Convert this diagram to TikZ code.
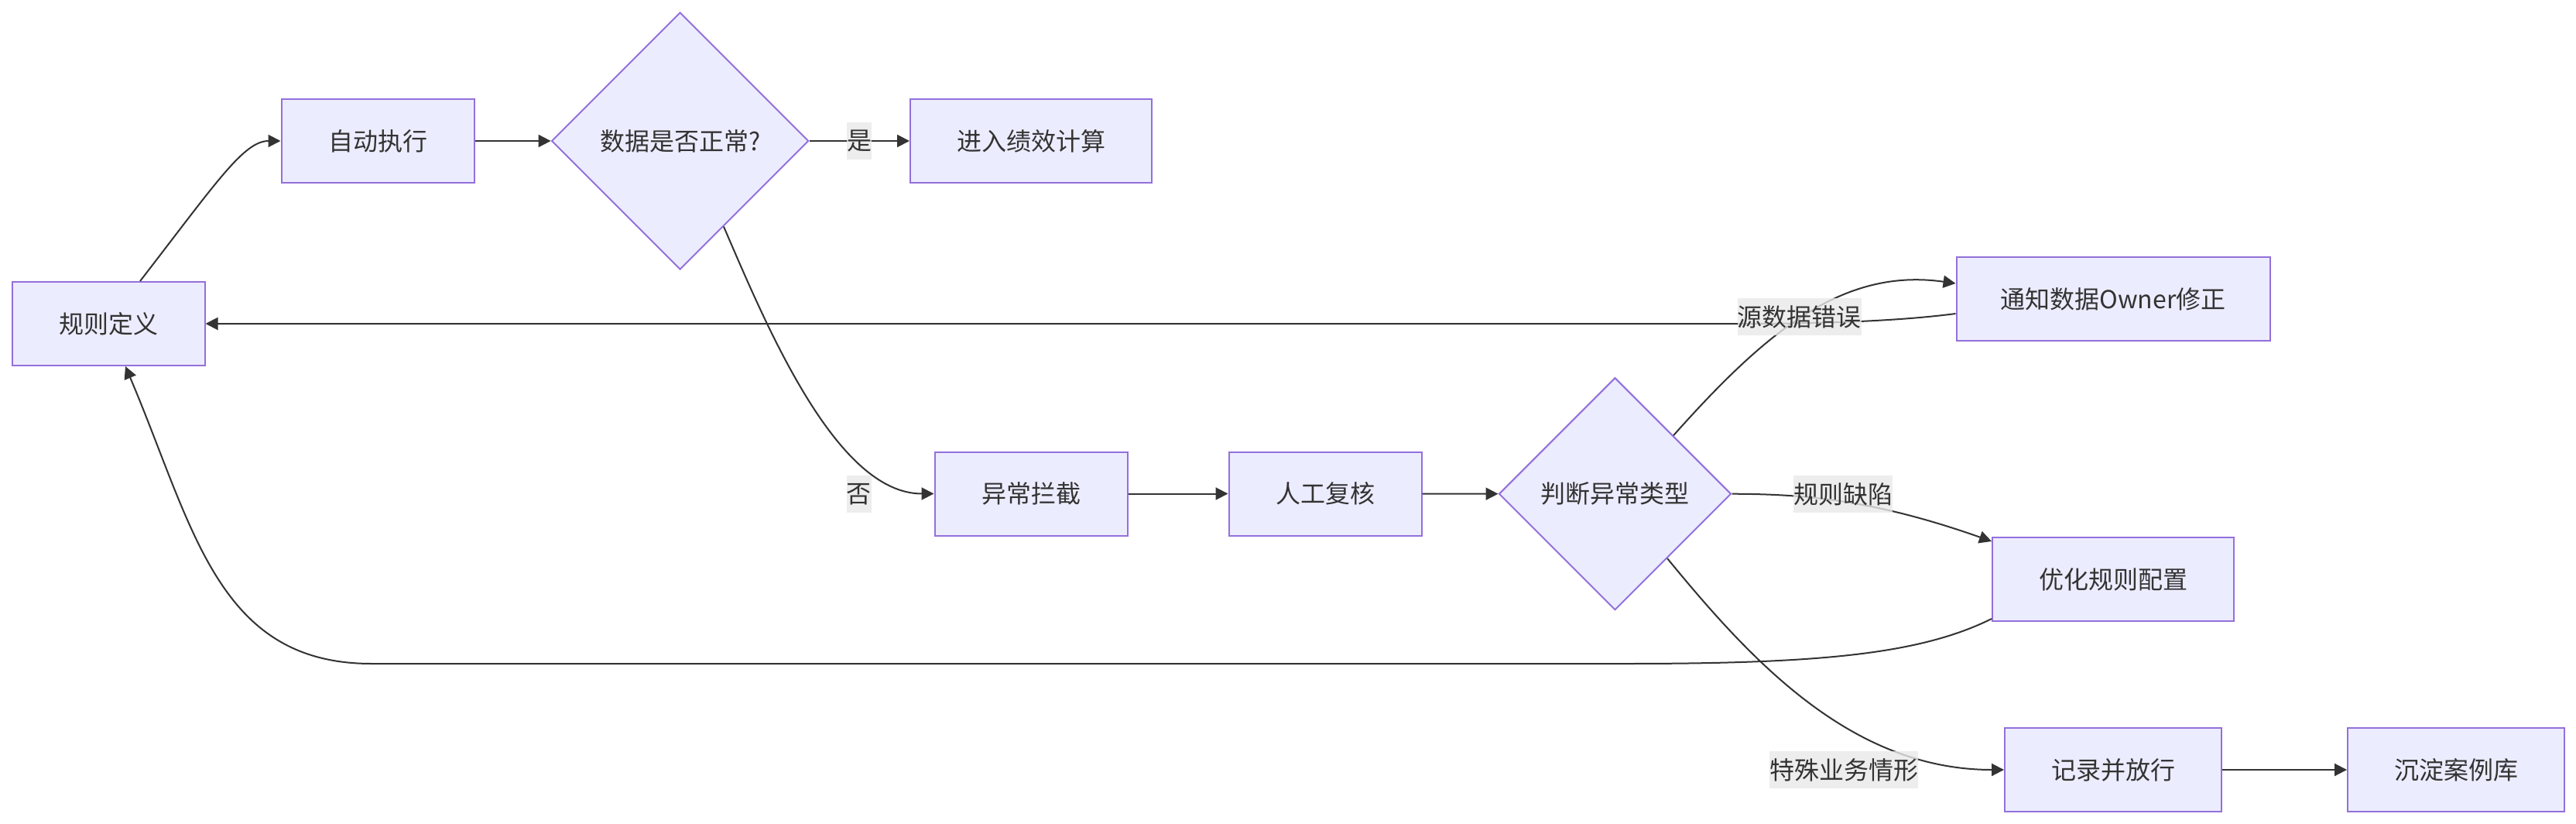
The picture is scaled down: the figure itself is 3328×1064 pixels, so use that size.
\documentclass[tikz,border=0pt]{standalone}
\usepackage{fontspec}
\setmainfont{Noto Sans CJK SC}
\usetikzlibrary{shapes.geometric,arrows.meta}
\definecolor{nodefill}{HTML}{ECECFF}
\definecolor{nodestroke}{HTML}{9370DB}
\definecolor{edgecol}{HTML}{333333}
\definecolor{lblbg}{HTML}{E8E8E8}
\begin{document}
\begin{tikzpicture}[x=0.5pt,y=-0.5pt,
  box/.style={draw=nodestroke, fill=nodefill, line width=1pt, inner sep=0pt, text=edgecol, font=\fontsize{16pt}{20pt}\selectfont},
  proc/.style={box, rectangle, minimum height=54pt},
  decision/.style={box, diamond, aspect=1},
  flow/.style={draw=edgecol, line width=1pt, -{Triangle[length=8pt,width=8pt]}},
  elabel/.style={fill=lblbg, fill opacity=0.8, text opacity=1, text=edgecol, inner sep=0pt, minimum height=24pt, font=\fontsize{16pt}{20pt}\selectfont}]
\useasboundingbox (0,0) rectangle (3328,1064);

\node[proc, minimum width=124.5pt] (A) at (140,418) {规则定义};
\node[proc, minimum width=124.5pt] (B) at (488,182) {自动执行};
\node[decision, minimum width=166pt, minimum height=166pt] (C) at (878.6,182) {数据是否正常?};
\node[proc, minimum width=156pt] (D) at (1332,182) {进入绩效计算};
\node[proc, minimum width=124.5pt] (E) at (1332,637.5) {异常拦截};
\node[proc, minimum width=124.5pt] (F) at (1712,637.5) {人工复核};
\node[decision, minimum width=150pt, minimum height=150pt] (G) at (2086.5,637.7) {判断异常类型};
\node[proc, minimum width=202.5pt] (H) at (2730,386) {通知数据Owner修正};
\node[proc, minimum width=156pt] (I) at (2730,748) {优化规则配置};
\node[proc, minimum width=140pt] (J) at (2730,994) {记录并放行};
\node[proc, minimum width=140pt] (K) at (3173,994) {沉淀案例库};

\draw[flow] ([xshift=20.5pt]A.north) .. controls (280,235) and (315,182) .. (B.west);
\draw[flow] (B.east) -- (C.west);
\draw[flow] (C.east) -- (D.west);
\draw[flow] (C.-63) .. controls (990,420) and (1080,637.5) .. (E.west);
\draw[flow] (E.east) -- (F.west);
\draw[flow] (F.east) -- (G.west);
\draw[flow] (G.north east) .. controls (2280,430) and (2380,345) .. ([yshift=10pt]H.west);
\draw[flow] ([yshift=-9.5pt]H.west) .. controls (2450,415) and (2350,418) .. (2245,418) -- (A.east);
\draw[flow] (G.east) .. controls (2330,638) and (2420,645) .. ([yshift=-3pt]I.north west);
\draw[flow] ([yshift=2pt]I.south west) .. controls (2480,845) and (2350,857) .. (2100,857) -- (480,857) .. controls (280,857) and (250,680) .. ([xshift=11pt]A.south);
\draw[flow] (G.-51) .. controls (2260,850) and (2390,994) .. (J.west);
\draw[flow] (J.east) -- (K.west);

\node[elabel] (l1) at (1110,182) {是};
\node[elabel] (l2) at (1109.5,638) {否};
\node[elabel] (l3) at (2324.5,409) {源数据错误};
\node[elabel] (l4) at (2381,638) {规则缺陷};
\node[elabel] (l5) at (2382,994) {特殊业务情形};
\end{tikzpicture}
\end{document}
